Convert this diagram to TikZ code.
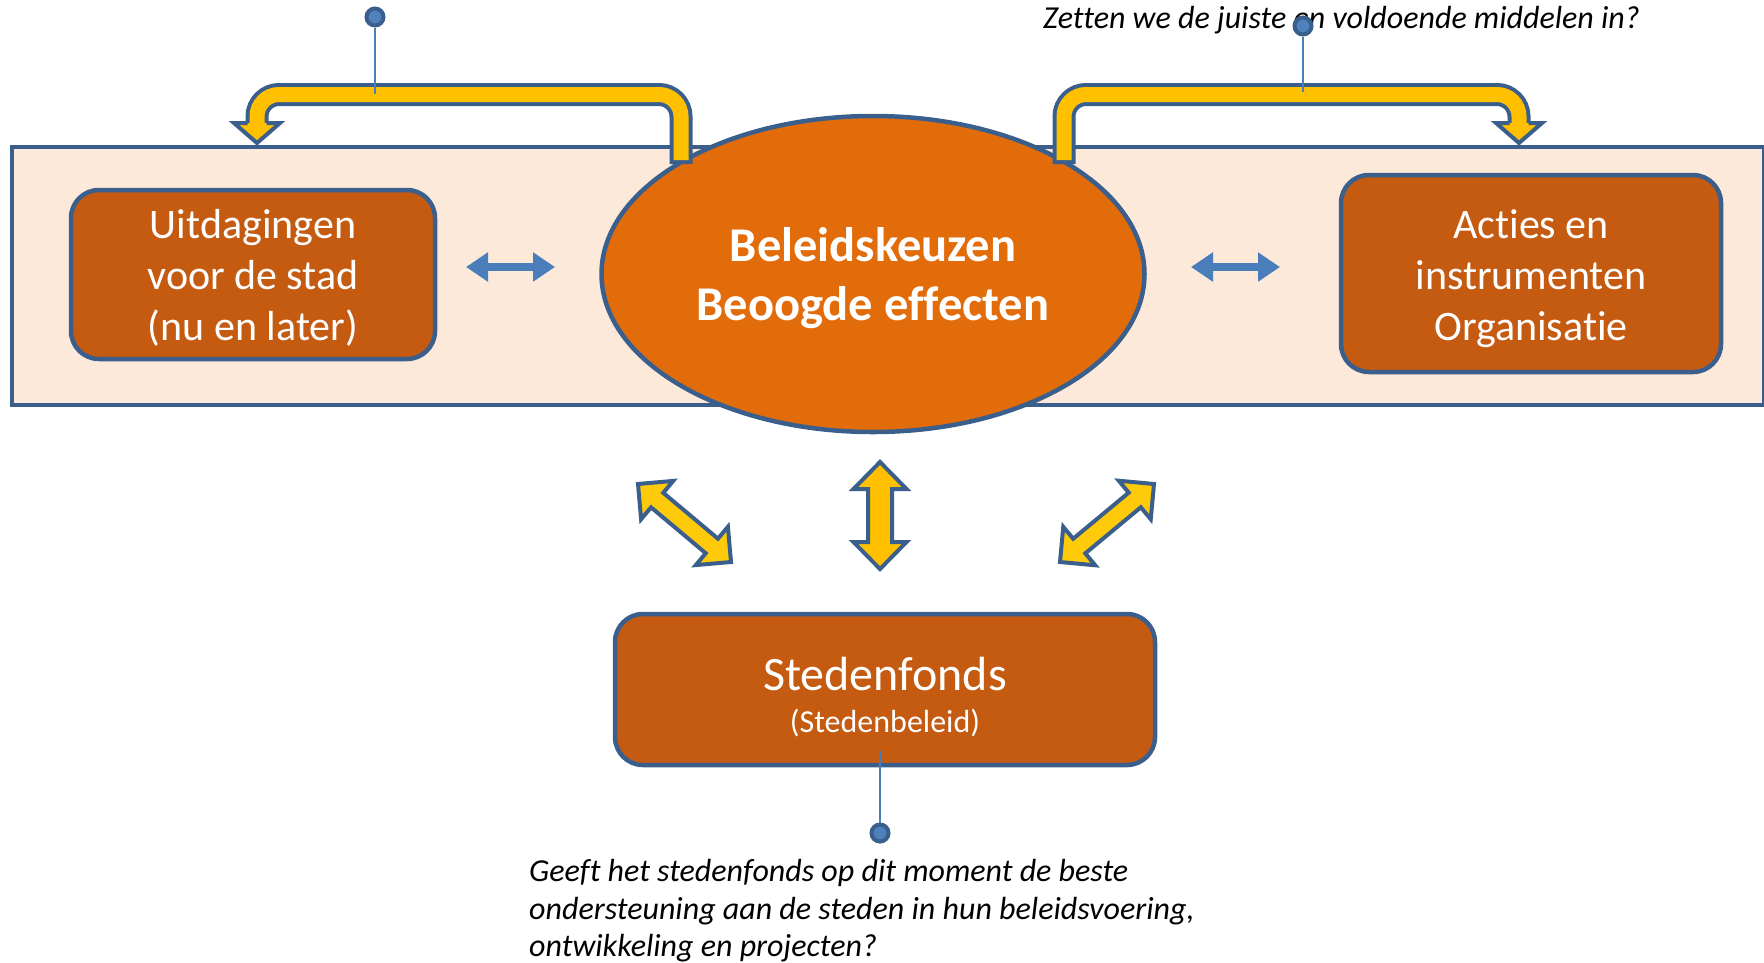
\documentclass[tikz,border=0pt]{standalone}
\usepackage{fontspec}
\setmainfont{Carlito}[Ligatures=NoCommon]
\usetikzlibrary{calc,arrows.meta,shapes.geometric}
\definecolor{dkblue}{HTML}{3B5F8C}
\definecolor{orbox}{HTML}{C55A11}
\definecolor{orell}{HTML}{E36C0A}
\definecolor{bgpeach}{HTML}{FCE9DA}
\definecolor{ylw}{HTML}{FFC000}
\definecolor{ylwtwo}{HTML}{FFCA0A}
\definecolor{ltblue}{HTML}{4A7EBB}
\definecolor{pinblue}{HTML}{4F81BD}
% double headed block arrow between two tip coordinates
% #1,#2 tips, #3 half shaft width, #4 half head width, #5 head length, #6 fill
\newcommand\dblarrow[6]{%
  \draw[yarrow, fill=#6] (#1)
    -- ($(#1)!#5!(#2)!#4!90:(#2)$) -- ($(#1)!#5!(#2)!#3!90:(#2)$)
    -- ($(#2)!#5!(#1)!#3!-90:(#1)$) -- ($(#2)!#5!(#1)!#4!-90:(#1)$)
    -- (#2)
    -- ($(#2)!#5!(#1)!#4!90:(#1)$) -- ($(#2)!#5!(#1)!#3!90:(#1)$)
    -- ($(#1)!#5!(#2)!#3!-90:(#2)$) -- ($(#1)!#5!(#2)!#4!-90:(#2)$)
    -- cycle;}
\begin{document}
\begin{tikzpicture}[x=1pt,y=-1pt,
  obox/.style={draw=dkblue, line width=4.5pt, fill=orbox, rounded corners=28pt, inner sep=0pt},
  boxtext/.style={text=white, align=center, inner sep=0pt},
  yarrow/.style={draw=dkblue, line width=4pt, line join=miter},
  smallarrow/.style={ltblue, line width=8pt,
    {Triangle[length=22pt,width=28pt]}-{Triangle[length=22pt,width=28pt]}},
  pindot/.style={circle, draw=dkblue, line width=4pt, fill=pinblue, inner sep=0pt,
    minimum size=17pt},
  pinline/.style={ltblue, line width=2pt},
  question/.style={font=\fontsize{32}{37.7}\selectfont\itshape, inner sep=0pt, text=black},
  bandout/.style={dkblue, line width=23pt, rounded corners=22pt},
  bandin/.style={ylw, line width=15pt, rounded corners=22pt},
  ]
\useasboundingbox (0,0) rectangle (1764,962);

% background band
\node[rectangle, draw=dkblue, line width=4pt, fill=bgpeach, anchor=north west,
  minimum width=1752pt, minimum height=258pt, inner sep=0pt] (bg) at (10,145) {};

% boxes
\node[obox, minimum width=364pt, minimum height=169pt] (uit) at (253,274.5) {};
\node[boxtext, font=\fontsize{42}{51}\selectfont] (uittxt) at (253,278)
  {Uitdagingen\\voor de stad\\(nu en later)};
\node[obox, minimum width=380pt, minimum height=197pt] (act) at (1531,273.5) {};
\node[boxtext, font=\fontsize{42}{51}\selectfont] (acttxt) at (1531,278.5)
  {Acties en\\instrumenten\\Organisatie};
\node[obox, minimum width=540pt, minimum height=151pt] (sf) at (885,689.5) {};
\node[boxtext, font=\fontsize{32}{42}\selectfont] (sftxt) at (885,697)
  {{\fontsize{48}{42}\selectfont Stedenfonds}\\(Stedenbeleid)};

% ellipse
\node[ellipse, draw=dkblue, line width=4.5pt, fill=orell,
  minimum width=543pt, minimum height=316pt, inner sep=0pt] (ell) at (873,274) {};
\node[boxtext, font=\fontsize{48.5}{59}\selectfont\bfseries] (elltxt) at (873,278)
  {Beleidskeuzen\\Beoogde effecten};

% small blue double arrows
\coordinate (sa1) at (466,267); \coordinate (sa2) at (555,267);
\coordinate (sb1) at (1191,267); \coordinate (sb2) at (1280,267);
\draw[smallarrow] (sa1) -- (sa2);
\draw[smallarrow] (sb1) -- (sb2);

% bent arrow left
\coordinate (la0) at (681,164); \coordinate (la1) at (681,160);
\coordinate (la2) at (681,94.5); \coordinate (la3) at (257,94.5); \coordinate (la4) at (257,124);
\draw[bandout] (la0) -- (la2) -- (la3) -- (la4);
\draw[bandin] (la1) -- (la2) -- (la3) -- (la4);
\fill[ylw] (234,123) -- (257,143) -- (280,123) -- cycle;
\draw[dkblue, line width=4pt, line join=miter] (266.5,123) -- (280,123) -- (257,143) -- (234,123) -- (247.5,123);

% bent arrow right
\coordinate (ra0) at (1064,164); \coordinate (ra1) at (1064,160);
\coordinate (ra2) at (1064,94.5); \coordinate (ra3) at (1519,94.5); \coordinate (ra4) at (1519,124);
\draw[bandout] (ra0) -- (ra2) -- (ra3) -- (ra4);
\draw[bandin] (ra1) -- (ra2) -- (ra3) -- (ra4);
\fill[ylw] (1496,123) -- (1519,143) -- (1542,123) -- cycle;
\draw[dkblue, line width=4pt, line join=miter] (1528.5,123) -- (1542,123) -- (1519,143) -- (1496,123) -- (1509.5,123);

% yellow double arrows
\coordinate (d1a) at (638,484); \coordinate (d1b) at (731,562);
\coordinate (d2a) at (1154,484); \coordinate (d2b) at (1060,562);
\coordinate (v1) at (880,462); \coordinate (v2) at (880,569);
\dblarrow{d1a}{d1b}{9.5pt}{25pt}{25pt}{ylwtwo}
\dblarrow{d2a}{d2b}{9.5pt}{25pt}{25pt}{ylwtwo}
\dblarrow{v1}{v2}{12pt}{26.5pt}{27pt}{ylw}

% top right question
\node[question, anchor=base west] (q1) at (1043,28)
  {Zetten we de juiste en voldoende middelen in?};

% pins
\node[pindot] (pa) at (375,17) {};
\coordinate (pae) at (375,94);
\draw[pinline] (pa) -- (pae);
\node[pindot] (pb) at (1303,26) {};
\coordinate (pbe) at (1303,92);
\draw[pinline] (pb) -- (pbe);
\coordinate (pcs) at (880,751);
\node[pindot] (pc) at (880,833) {};
\draw[pinline] (pcs) -- (pc);

% bottom question
\node[question, anchor=north west, align=left] (q2) at (529,859)
  {Geeft het stedenfonds op dit moment de beste\\
   ondersteuning aan de steden in hun beleidsvoering,\\
   ontwikkeling en projecten?};
\end{tikzpicture}
\end{document}
